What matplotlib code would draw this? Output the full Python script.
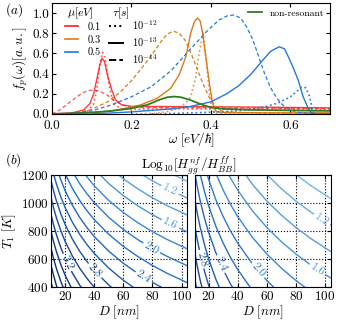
import numpy as np
import matplotlib
matplotlib.use('Agg')
import matplotlib.pyplot as plt
from matplotlib.lines import Line2D
from matplotlib.colors import Normalize, LinearSegmentedColormap

plt.rcParams['font.family'] = ['cmr10', 'DejaVu Serif']
plt.rcParams['mathtext.fontset'] = 'cm'
plt.rcParams['axes.formatter.use_mathtext'] = True
plt.rcParams['font.size'] = 9

# ---- panel (a): spectra ----
# mu = 0.1 eV
w_r_dot = [0.0, 0.07, 0.09, 0.105, 0.113, 0.12, 0.127, 0.133, 0.14, 0.148, 0.158, 0.175, 0.2, 0.3, 0.45, 0.6, 0.7]
f_r_dot = [0.0, 0.01, 0.03, 0.10, 0.25, 0.48, 0.61, 0.56, 0.38, 0.20, 0.09, 0.05, 0.045, 0.05, 0.05, 0.048, 0.046]
w_r_sol = [0.0, 0.05, 0.08, 0.095, 0.105, 0.113, 0.12, 0.126, 0.132, 0.14, 0.15, 0.16, 0.175, 0.2, 0.3, 0.4, 0.5, 0.6, 0.7]
f_r_sol = [0.0, 0.01, 0.04, 0.10, 0.20, 0.35, 0.48, 0.553, 0.52, 0.38, 0.24, 0.14, 0.09, 0.075, 0.073, 0.071, 0.068, 0.064, 0.06]
w_r_das = [0.0, 0.02, 0.046, 0.075, 0.09, 0.105, 0.12, 0.138, 0.155, 0.168, 0.189, 0.22, 0.3, 0.4, 0.5, 0.6, 0.7]
f_r_das = [0.0, 0.04, 0.12, 0.205, 0.23, 0.238, 0.225, 0.19, 0.14, 0.106, 0.07, 0.062, 0.062, 0.06, 0.058, 0.055, 0.052]
# mu = 0.3 eV
w_o_dot = [0.2, 0.26, 0.29, 0.31, 0.324, 0.337, 0.349, 0.362, 0.37, 0.381, 0.387, 0.394, 0.40, 0.407, 0.42, 0.5, 0.7]
f_o_dot = [0.0, 0.005, 0.023, 0.045, 0.072, 0.11, 0.17, 0.37, 0.60, 0.80, 0.57, 0.30, 0.106, 0.01, 0.005, 0.005, 0.005]
w_o_sol = [0.05, 0.1, 0.15, 0.19, 0.223, 0.265, 0.299, 0.32, 0.337, 0.349, 0.358, 0.366, 0.373, 0.379, 0.387, 0.396, 0.404, 0.413, 0.43, 0.5, 0.7]
f_o_sol = [0.0, 0.01, 0.03, 0.06, 0.089, 0.156, 0.255, 0.387, 0.569, 0.80, 0.91, 0.95, 0.92, 0.80, 0.569, 0.305, 0.106, 0.023, 0.015, 0.012, 0.01]
w_o_das = [0.03, 0.06, 0.1, 0.14, 0.17, 0.2, 0.225, 0.25, 0.275, 0.29, 0.305, 0.32, 0.335, 0.35, 0.365, 0.38, 0.395, 0.41, 0.425, 0.45, 0.55, 0.7]
f_o_das = [0.0, 0.01, 0.045, 0.12, 0.21, 0.33, 0.45, 0.58, 0.72, 0.79, 0.82, 0.80, 0.73, 0.60, 0.45, 0.30, 0.17, 0.08, 0.03, 0.015, 0.01, 0.008]
# mu = 0.5 eV
w_b_dot = [0.25, 0.35, 0.45, 0.5, 0.54, 0.57, 0.6, 0.615, 0.628, 0.638, 0.646, 0.652, 0.656, 0.66, 0.7]
f_b_dot = [0.0, 0.01, 0.025, 0.045, 0.075, 0.11, 0.17, 0.22, 0.265, 0.26, 0.20, 0.11, 0.03, 0.0, 0.0]
w_b_sol = [0.1, 0.15, 0.2, 0.25, 0.3, 0.35, 0.4, 0.44, 0.47, 0.5, 0.53, 0.55, 0.572, 0.585, 0.598, 0.61, 0.62, 0.632, 0.645, 0.653, 0.66, 0.7]
f_b_sol = [0.0, 0.01, 0.02, 0.035, 0.05, 0.075, 0.12, 0.20, 0.28, 0.39, 0.53, 0.62, 0.665, 0.645, 0.54, 0.43, 0.33, 0.17, 0.055, 0.007, 0.0, 0.0]
w_b_das = [0.03, 0.1, 0.15, 0.2, 0.25, 0.3, 0.35, 0.39, 0.42, 0.44, 0.457, 0.475, 0.49, 0.505, 0.52, 0.535, 0.55, 0.565, 0.58, 0.6, 0.62, 0.65, 0.7]
f_b_das = [0.0, 0.03, 0.09, 0.17, 0.27, 0.43, 0.65, 0.82, 0.93, 0.97, 0.98, 0.95, 0.86, 0.74, 0.57, 0.40, 0.26, 0.16, 0.09, 0.04, 0.015, 0.005, 0.0]
# non-resonant
w_g = [0.0, 0.05, 0.1, 0.15, 0.2, 0.24, 0.27, 0.29, 0.307, 0.325, 0.35, 0.375, 0.4, 0.43, 0.5, 0.6, 0.7]
f_g = [0.0, 0.005, 0.015, 0.03, 0.055, 0.09, 0.14, 0.165, 0.172, 0.165, 0.135, 0.095, 0.065, 0.05, 0.04, 0.035, 0.03]

c_red, c_orange, c_blue, c_green = '#ff1a1a', '#dc7a16', '#2478de', '#2e7d25'

# ---- panel (b): Log10 ratio on a (T, D) grid, estimated from the contours ----
D_grid = [10, 12, 14, 17, 20, 25, 30, 35, 40, 50, 60, 70, 80, 90, 105]
T_grid = [400, 600, 800, 1000, 1200]
Z_left = [
    [4.085, 3.942, 3.822, 3.670, 3.543, 3.369, 3.226, 3.106, 3.001, 2.827, 2.684, 2.564, 2.459, 2.367, 2.247],
    [3.753, 3.610, 3.490, 3.338, 3.211, 3.037, 2.894, 2.774, 2.669, 2.495, 2.352, 2.232, 2.127, 2.035, 1.915],
    [3.421, 3.278, 3.158, 3.006, 2.879, 2.705, 2.562, 2.442, 2.337, 2.163, 2.020, 1.900, 1.795, 1.703, 1.583],
    [3.089, 2.946, 2.826, 2.674, 2.547, 2.373, 2.230, 2.110, 2.005, 1.831, 1.688, 1.568, 1.463, 1.371, 1.251],
    [2.757, 2.614, 2.494, 2.342, 2.215, 2.041, 1.898, 1.778, 1.673, 1.499, 1.356, 1.236, 1.131, 1.039, 0.919],
]
Z_right = [
    [3.297, 3.170, 3.063, 2.928, 2.815, 2.660, 2.534, 2.426, 2.334, 2.179, 2.052, 1.945, 1.852, 1.770, 1.663],
    [3.085, 2.958, 2.851, 2.716, 2.603, 2.448, 2.322, 2.214, 2.122, 1.967, 1.840, 1.733, 1.640, 1.558, 1.451],
    [2.873, 2.746, 2.639, 2.504, 2.391, 2.236, 2.110, 2.002, 1.910, 1.755, 1.628, 1.521, 1.428, 1.346, 1.239],
    [2.661, 2.534, 2.427, 2.292, 2.179, 2.024, 1.898, 1.790, 1.698, 1.543, 1.416, 1.309, 1.216, 1.134, 1.027],
    [2.449, 2.322, 2.215, 2.080, 1.967, 1.812, 1.686, 1.578, 1.486, 1.331, 1.204, 1.097, 1.004, 0.922, 0.815],
]
plain_levels = [1.0, 1.4, 1.8, 2.2, 2.6, 3.0, 3.4, 3.8]
label_levels = [1.2, 1.6, 2.0, 2.4, 2.8, 3.2, 3.6, 4.0]
label_pos_left = [(92, 1093), (92, 844), (80, 690), (74, 472), (41, 524), (20.7, 574)]
label_pos_right = [(98, 885), (93, 495), (54.4, 524), (29.8, 572), (13, 595)]

fig = plt.figure(figsize=(3.4, 3.2), dpi=100)
ax = fig.add_axes([0.153, 0.644, 0.818, 0.347])

ax.plot(w_r_dot, f_r_dot, color=c_red, ls=':', lw=1.2, alpha=0.75)
ax.plot(w_r_das, f_r_das, color=c_red, ls='--', lw=0.9, alpha=0.75, dashes=(3, 2))
ax.plot(w_r_sol, f_r_sol, color=c_red, ls='-', lw=1.0, alpha=0.85)
ax.plot(w_o_dot, f_o_dot, color=c_orange, ls=':', lw=1.2, alpha=0.8)
ax.plot(w_o_das, f_o_das, color=c_orange, ls='--', lw=0.9, dashes=(3, 2))
ax.plot(w_o_sol, f_o_sol, color=c_orange, ls='-', lw=1.0)
ax.plot(w_b_dot, f_b_dot, color=c_blue, ls=':', lw=1.2)
ax.plot(w_b_das, f_b_das, color=c_blue, ls='--', lw=0.9, dashes=(3, 2))
ax.plot(w_b_sol, f_b_sol, color=c_blue, ls='-', lw=1.0)
ax.plot(w_g, f_g, color=c_green, ls='-', lw=1.3)

ax.set_xlim(0, 0.7)
ax.set_ylim(0, 1.1)
ax.set_xticks([0.0, 0.2, 0.4, 0.6])
ax.set_yticks([0.0, 0.2, 0.4, 0.6, 0.8, 1.0])
ax.xaxis.set_major_formatter(plt.FuncFormatter(lambda v, _: f'{v:.1f}'))
ax.yaxis.set_major_formatter(plt.FuncFormatter(lambda v, _: f'{v:.1f}'))
ax.tick_params(direction='in', top=True, right=True, length=3, labelsize=9.5, pad=2)
ax.tick_params(axis='x', pad=4)
ax.set_xlabel(r'$\omega\ [eV/\hbar]$', fontsize=9.5, labelpad=-1)
ax.set_ylabel(r'$f_p(\omega)[a.u.]$', fontsize=9.5, labelpad=2)

handles = [Line2D([], [], color=c_red, lw=1.2), Line2D([], [], color=c_orange, lw=1.2),
           Line2D([], [], color=c_blue, lw=1.2),
           Line2D([], [], color='k', ls=':', lw=1.4), Line2D([], [], color='k', ls='-', lw=1.4),
           Line2D([], [], color='k', ls='--', lw=1.4)]
labels = ['0.1', '0.3', '0.5', r'$10^{-12}$', r'$10^{-13}$', r'$10^{-14}$']
leg = ax.legend(handles, labels, ncol=2, loc='upper left', bbox_to_anchor=(0.02, 0.925),
                frameon=False, fontsize=7.5, handlelength=1.3, handletextpad=0.9,
                columnspacing=0.8, labelspacing=0.3, borderpad=0.2)
ax.add_artist(leg)
ax.text(0.054, 0.91, r'$\mu[eV]$', transform=ax.transAxes, fontsize=8.5, va='center')
ax.text(0.216, 0.91, r'$\tau[s]$', transform=ax.transAxes, fontsize=8.5, va='center')
ax.legend([Line2D([], [], color=c_green, lw=1.3)], ['non-resonant'], loc='upper right',
          frameon=False, fontsize=7, handlelength=1.4, borderpad=0.2, borderaxespad=0.4)

fig.text(0.015, 0.958, r'$(a)$', fontsize=9.5)
fig.text(0.015, 0.49, r'$(b)$', fontsize=9.5)
fig.text(0.555, 0.47, r'$\mathrm{Log}_{10}[H^{nf}_{gg}/H^{ff}_{BB}]$', fontsize=9.5, ha='center')

cmap = LinearSegmentedColormap.from_list('cblue', ['#72b6ee', '#2b7bd6', '#174a9a', '#0b2352'])
norm = Normalize(vmin=1.0, vmax=4.0)
axl = fig.add_axes([0.151, 0.102, 0.400, 0.351])
axr = fig.add_axes([0.573, 0.102, 0.400, 0.351])
for a, Z, pos in [(axl, Z_left, label_pos_left), (axr, Z_right, label_pos_right)]:
    a.contour(D_grid, T_grid, Z, levels=plain_levels, cmap=cmap, norm=norm, linewidths=1.0)
    cs = a.contour(D_grid, T_grid, Z, levels=label_levels, cmap=cmap, norm=norm, linewidths=1.0)
    a.clabel(cs, manual=pos, fmt='%.1f', fontsize=8.5, inline=True, inline_spacing=2)
    a.set_xlim(10.5, 104)
    a.set_ylim(400, 1200)
    a.set_xticks([20, 40, 60, 80, 100])
    a.set_yticks([400, 600, 800, 1000, 1200])
    a.grid(True, ls=':', color='k', lw=0.8)
    a.tick_params(direction='in', top=True, right=True, length=3, labelsize=9.5, pad=2)
    a.set_xlabel(r'$D\ [nm]$', fontsize=9.5, labelpad=0)
axl.set_ylabel(r'$T_1\ [K]$', fontsize=9.5, labelpad=2)
axr.tick_params(labelleft=False)

plt.savefig('out.png', dpi=100)
